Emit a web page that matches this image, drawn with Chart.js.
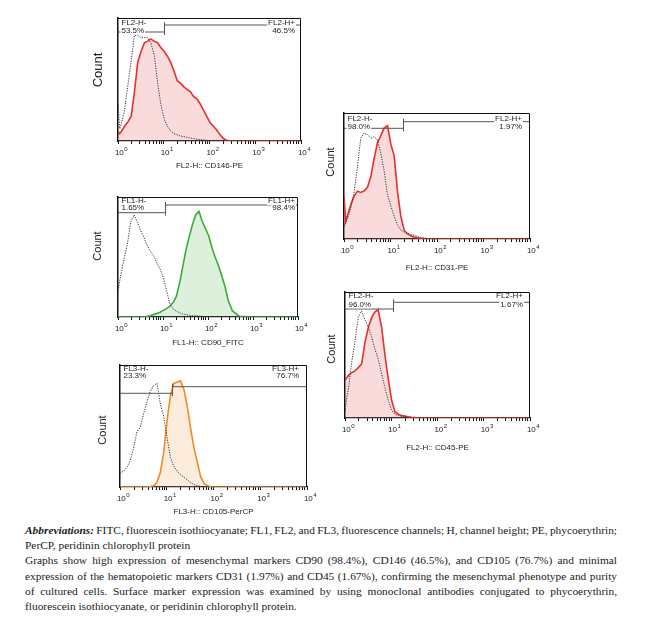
<!DOCTYPE html>
<html>
<head>
<meta charset="utf-8">
<script src="https://cdn.jsdelivr.net/npm/chart.js@4.4.0/dist/chart.umd.min.js"></script>
<style>
  body { margin: 0; width: 668px; height: 627px; background: #fff; position: relative; overflow: hidden; }
  canvas { position: absolute; }
  #caption { position: absolute; left: 25px; top: 523px; width: 592px; font-family: "Liberation Serif", "DejaVu Serif", "Times New Roman", serif; font-size: 11.4px; line-height: 15.2px; color: #1a1a1a; }
  #caption div { white-space: nowrap; }
</style>
</head>
<body>
<canvas id="p1"></canvas>
<canvas id="p2"></canvas>
<canvas id="p3"></canvas>
<canvas id="p4"></canvas>
<canvas id="p5"></canvas>

<div id="caption">
  <div class="j"><span><b><i>Abbreviations:</i></b> FITC, fluorescein isothiocyanate; FL1, FL2, and FL3, fluorescence channels; H, channel height; PE, phycoerythrin;</span></div>
  <div><span>PerCP, peridinin chlorophyll protein</span></div>
  <div class="j"><span>Graphs show high expression of mesenchymal markers CD90 (98.4%), CD146 (46.5%), and CD105 (76.7%) and minimal</span></div>
  <div class="j"><span>expression of the hematopoietic markers CD31 (1.97%) and CD45 (1.67%), confirming the mesenchymal phenotype and purity</span></div>
  <div class="j"><span>of cultured cells. Surface marker expression was examined by using monoclonal antibodies conjugated to phycoerythrin,</span></div>
  <div><span>fluorescein isothiocyanate, or peridinin chlorophyll protein.</span></div>
</div>

<script>
// Canales (escala log) comunes a todos los histogramas
const channels = [1, 1.09, 1.2, 1.39, 1.6, 1.94, 2.29, 2.7, 3.2, 3.8,
  4.4, 5.2, 6.2, 7.3, 8.6, 10.2, 12, 14.2, 16.7, 19.7,
  23.3, 27.5, 32.4, 38.3, 45.2, 53.3, 63, 74, 87, 103,
  122, 144, 170, 200, 240, 280, 350, 500, 1000, 10000];

// Marcas del eje x
const tickValues = [1, 2, 3, 4, 5, 6, 7, 8, 9, 10, 20, 30, 40, 50, 60, 70, 80, 90,
  100, 200, 300, 400, 500, 600, 700, 800, 900, 1000, 2000, 3000, 4000, 5000, 6000, 7000, 8000, 9000, 10000];
const decadeValues = [1, 10, 100, 1000, 10000];
const decadeExponents = ['0', '1', '2', '3', '4'];

// Conteos (control de isotipo punteado y marcador teñido)
const cd146Control = [30, 10, 15, 25, 42, 65, 86, 86, 84, 84, 84, 80, 70, 48, 30, 18, 12, 8, 6, 5,
  4, 3.5, 3, 2.5, 2, 1.5, 1, 1, 0.5, 0, 0, 0, 0, 0, 0, 0, 0, 0, 0, 0];
const cd146Stained = [8, 6, 8, 12, 15, 20, 40, 64, 73, 80, 81, 83, 81, 80, 76, 73, 69, 64, 57, 49,
  47, 44, 42, 40, 36, 34, 30, 25, 20, 15, 12, 9, 5, 2, 0.5, 0, 0, 0, 0, 0];

const cd90Control = [22, 30, 38, 50, 60, 80, 85, 79, 72, 66, 60, 55, 51, 45, 40, 33, 22, 11, 7, 5,
  3.5, 2.5, 2, 1.5, 1.2, 1, 0.8, 0.5, 0.3, 0, 0, 0, 0, 0, 0, 0, 0, 0, 0, 0];
const cd90Stained = [0, 0, 0, 0, 0, 0, 0, 0, 0, 0, 0.5, 1, 2, 3, 4, 5.5, 7, 9, 12, 17,
  28, 42, 56, 67, 77, 85, 88, 80, 74, 68, 58, 50, 43, 35, 25, 14, 5, 0.5, 0, 0];

const cd105Control = [11, 12, 13, 16, 20, 31, 45, 49, 60, 70, 78, 83, 85, 68, 58, 40, 24, 17, 13, 10,
  8, 6, 3.5, 2, 1, 0.5, 0, 0, 0, 0, 0, 0, 0, 0, 0, 0, 0, 0, 0, 0];
const cd105Stained = [0, 0, 0, 0, 0, 0, 0, 0, 0, 0, 0.3, 1, 4, 12, 28, 55, 75, 85, 86, 87,
  80, 66, 48, 32, 20, 8, 3, 1, 0.3, 0, 0, 0, 0, 0, 0, 0, 0, 0, 0, 0];

const cd31Control = [10, 13, 17, 24, 34, 57, 80, 84, 83, 80, 81, 79, 68, 54, 35, 26, 18, 11, 7, 5.5,
  4.5, 3.5, 3, 2, 1.2, 0.8, 0.3, 0, 0, 0, 0, 0, 0, 0, 0, 0, 0, 0, 0, 0];
const cd31Stained = [33, 14, 19, 27, 33, 38, 37, 38, 41, 50, 63, 76, 82, 88, 90, 75, 66, 37, 18, 7,
  4, 2.5, 1.5, 1, 0.6, 0.3, 0, 0, 0, 0, 0, 0, 0, 0, 0, 0, 0, 0, 0, 0];

const cd45Control = [5, 16, 24, 44, 58, 80, 85, 78, 72, 64, 55, 47, 35, 24, 14, 6, 3, 2, 1.2, 0.8,
  0.5, 0, 0, 0, 0, 0, 0, 0, 0, 0, 0, 0, 0, 0, 0, 0, 0, 0, 0, 0];
const cd45Stained = [30, 32, 34, 36, 37, 40, 43, 60, 72, 80, 84, 86, 72, 50, 31, 14, 5, 3, 2, 1.5,
  1, 0.6, 0.3, 0, 0, 0, 0, 0, 0, 0, 0, 0, 0, 0, 0, 0, 0, 0, 0, 0];

// Textos de ejes y de las compuertas
const axisTitles = ['FL2-H:: CD146-PE', 'FL1-H:: CD90_FITC', 'FL3-H:: CD105-PerCP', 'FL2-H:: CD31-PE', 'FL2-H:: CD45-PE'];
const gateNames = [['FL2-H-', 'FL2-H+'], ['FL1-H-', 'FL1-H+'], ['FL3-H-', 'FL3-H+'], ['FL2-H-', 'FL2-H+'], ['FL2-H-', 'FL2-H+']];
const gatePercents = [['53.5%', '46.5%'], ['1.65%', '98.4%'], ['23.3%', '76.7%'], ['98.0%', '1.97%'], ['96.0%', '1.67%']];
const gateSplits = [10, 11, 12.7, 18.3, 11];

const FONT = '"Liberation Sans", Arial, sans-serif';

// Justificar las líneas del pie de figura
document.querySelectorAll('#caption .j').forEach(function(el) {
  const span = el.firstElementChild;
  const n = (span.textContent.match(/ /g) || []).length;
  const w = span.getBoundingClientRect().width;
  el.style.wordSpacing = ((592 - w) / n) + 'px';
});

// Marco, compuertas, etiquetas 10^n y "Count"
const flowDecor = {
  id: 'flowDecor',
  afterDatasetsDraw(chart, args, p) {
    const ctx = chart.ctx, a = chart.chartArea, x = chart.scales.x;
    ctx.save();
    const sx = Math.round(x.getPixelForValue(p.split)) + 0.5;
    ctx.strokeStyle = '#555';
    ctx.lineWidth = 1;
    ctx.beginPath();
    ctx.moveTo(a.left, a.top + p.yL); ctx.lineTo(sx, a.top + p.yL);
    ctx.moveTo(sx, a.top + p.yR); ctx.lineTo(a.right, a.top + p.yR);
    ctx.moveTo(sx, a.top + p.yR - 3); ctx.lineTo(sx, a.top + p.yL + 3);
    ctx.stroke();

    ctx.font = '8px ' + FONT;
    ctx.textBaseline = 'middle';
    const label = (txt, xx, yy, align) => {
      const w = ctx.measureText(txt).width;
      const x0 = align === 'left' ? xx : xx - w;
      ctx.fillStyle = '#fff';
      ctx.fillRect(x0 - 1, yy - 4, w + 2, 8);
      ctx.fillStyle = '#1e1e1e';
      ctx.textAlign = align;
      ctx.fillText(txt, xx, yy);
    };
    label(p.names[0], a.left + 3.5, a.top + p.t1, 'left');
    label(p.pcts[0], a.left + 3.5, a.top + p.t2, 'left');
    label(p.names[1], a.right - p.rPad, a.top + p.t1, 'right');
    label(p.pcts[1], a.right - p.rPad, a.top + p.t2, 'right');

    // marco
    ctx.strokeStyle = '#111';
    ctx.beginPath();
    ctx.moveTo(a.left, a.top + 0.5); ctx.lineTo(a.right - 0.5, a.top + 0.5); ctx.lineTo(a.right - 0.5, a.bottom);
    ctx.stroke();

    // etiquetas 10^n
    ctx.fillStyle = '#222';
    ctx.textAlign = 'left';
    decadeValues.forEach((v, i) => {
      const px = x.getPixelForValue(v);
      ctx.font = '8px ' + FONT;
      const wb = ctx.measureText('10').width;
      ctx.font = '6px ' + FONT;
      const we = ctx.measureText(decadeExponents[i]).width;
      const x0 = px + 3 - (wb + we) / 2;
      ctx.font = '8px ' + FONT;
      ctx.fillText('10', x0, a.bottom + 11.5);
      ctx.font = '6px ' + FONT;
      ctx.fillText(decadeExponents[i], x0 + wb + 0.5, a.bottom + 8);
    });

    // Count
    ctx.save();
    ctx.translate(a.left - p.countDx, a.top + p.countDy);
    ctx.rotate(-Math.PI / 2);
    ctx.font = p.countSize + 'px ' + FONT;
    ctx.fillStyle = '#222';
    ctx.textAlign = 'center';
    ctx.fillText('Count', 0, 0);
    ctx.restore();
    ctx.restore();
  }
};

const panels = [
  { id: 'p1', box: [118, 18, 301, 141], control: cd146Control, stained: cd146Stained, color: '#e8302a', fill: 'rgba(236,110,110,0.25)', gap: 25,
    decor: { yR: 7, yL: 14, t1: 5, t2: 12.5, rPad: 6, countDx: 20, countDy: 52, countSize: 13 } },
  { id: 'p2', box: [118, 197, 298, 317], control: cd90Control, stained: cd90Stained, color: '#3aab3a', fill: 'rgba(80,180,80,0.2)', gap: 26,
    decor: { yR: 8, yL: 15.7, t1: 4.2, t2: 11, rPad: 3, countDx: 20, countDy: 49, countSize: 11 } },
  { id: 'p3', box: [120, 365, 307, 487], control: cd105Control, stained: cd105Stained, color: '#f28a26', fill: 'rgba(245,180,110,0.25)', gap: 25,
    decor: { yR: 21.7, yL: 28.3, t1: 4, t2: 11, rPad: 8, countDx: 17, countDy: 65, countSize: 11 } },
  { id: 'p4', box: [344, 113, 530, 239], control: cd31Control, stained: cd31Stained, color: '#e8302a', fill: 'rgba(236,110,110,0.25)', gap: 29,
    decor: { yR: 8.7, yL: 15.3, t1: 6, t2: 13.7, rPad: 8, countDx: 13, countDy: 49, countSize: 11 } },
  { id: 'p5', box: [345, 292, 530, 418], control: cd45Control, stained: cd45Stained, color: '#e8302a', fill: 'rgba(236,110,110,0.25)', gap: 30,
    decor: { yR: 10.3, yL: 17, t1: 4.2, t2: 12.3, rPad: 7, countDx: 13, countDy: 57, countSize: 11 } }
];

panels.forEach(function(p, k) {
  const [l, t, r, b] = p.box;
  const XH = 36;
  const cv = document.getElementById(p.id);
  cv.width = r - l + 44;
  cv.height = b - t + 4 + XH;
  cv.style.left = (l - 30) + 'px';
  cv.style.top = (t - 4) + 'px';

  const decor = Object.assign({ split: gateSplits[k], names: gateNames[k], pcts: gatePercents[k] }, p.decor);

  new Chart(cv, {
    type: 'line',
    data: {
      datasets: [
        { data: channels.map((c, i) => ({ x: c, y: p.control[i] })), borderColor: '#333', borderWidth: 1,
          borderDash: [1.2, 1.3], pointRadius: 0, fill: false },
        { data: channels.map((c, i) => ({ x: c, y: p.stained[i] })), borderColor: p.color, borderWidth: 1.6,
          pointRadius: 0, fill: 'origin', backgroundColor: p.fill }
      ]
    },
    options: {
      responsive: false,
      animation: false,
      layout: { padding: { left: 0, top: 4, right: 14, bottom: 0 } },
      plugins: { legend: { display: false }, tooltip: { enabled: false }, flowDecor: decor },
      scales: {
        x: {
          type: 'logarithmic', min: 1, max: 10000,
          afterBuildTicks: s => { s.ticks = tickValues.map(v => ({ value: v })); },
          afterFit: s => { s.height = XH; },
          ticks: { autoSkip: false, maxRotation: 0, callback: () => '' },
          grid: { drawOnChartArea: false, tickLength: 3, color: '#111', lineWidth: 1 },
          border: { color: '#111', width: 1.2 },
          title: { display: true, text: axisTitles[k], color: '#222', font: { size: 8, family: FONT },
                   padding: { top: 0, bottom: XH - p.gap - 4.8 } }
        },
        y: {
          min: 0, max: 100,
          afterFit: s => { s.width = 30; },
          ticks: { display: false },
          grid: { drawOnChartArea: false, drawTicks: false },
          border: { color: '#111', width: 1.5 }
        }
      }
    },
    plugins: [flowDecor]
  });
});
</script>
</body>
</html>
